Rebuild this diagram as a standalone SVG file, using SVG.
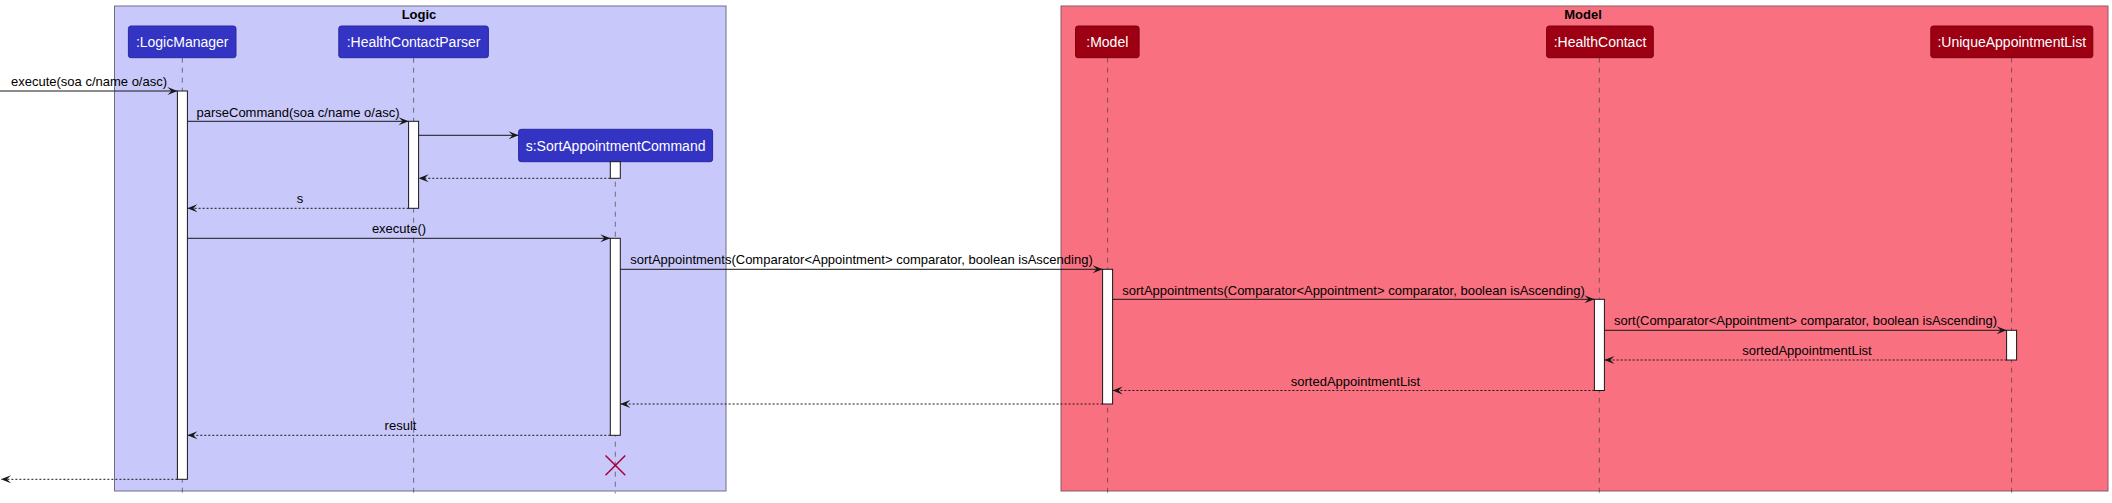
<svg xmlns="http://www.w3.org/2000/svg" width="2112" height="503" viewBox="0 0 2112 503">
<style>
  .t{font-family:"Liberation Sans",Arial,sans-serif;font-size:13px;fill:#000}
  .title{font-family:"Liberation Sans",Arial,sans-serif;font-size:13px;font-weight:bold;fill:#000;text-anchor:middle}
  .pt{font-family:"Liberation Sans",Arial,sans-serif;font-size:14px;fill:#fff;text-anchor:middle}
  .plog{fill:#3333C4;stroke:#2a2aa0;stroke-width:1}
  .pmod{fill:#9D0012;stroke:#7a000e;stroke-width:1}
  .life{stroke:#3a3a3a;stroke-opacity:0.65;stroke-width:1;stroke-dasharray:5,5;fill:none}
  .act{fill:#fff;stroke:#181818;stroke-width:1}
  .msg{stroke:#181818;stroke-width:1;fill:none;marker-end:url(#arr)}
  .ret{stroke:#181818;stroke-width:1;fill:none;stroke-dasharray:2,2;marker-end:url(#arr)}
  .mid{text-anchor:middle}
</style>
<defs>
  <marker id="arr" markerUnits="userSpaceOnUse" markerWidth="12" markerHeight="10" refX="10" refY="4" orient="auto" overflow="visible">
    <path d="M0,0 L10,4 L0,8 L4,4 Z" fill="#181818"/>
  </marker>
</defs>
<rect width="2112" height="503" fill="#fff"/>

<g id="box-logic">
  <rect x="114.5" y="6" width="611.5" height="485" fill="#C8C8FA" stroke="#6e6e8c" stroke-width="1"/>
  <text class="title" x="419" y="18.5">Logic</text>
</g>
<g id="box-model">
  <rect x="1061" y="6" width="1047" height="485" fill="#F97181" stroke="#8a5a62" stroke-width="1"/>
  <text class="title" x="1583" y="18.5">Model</text>
</g>

<g id="lifelines">
  <line class="life" x1="182.3" y1="57.7" x2="182.3" y2="493.5"/>
  <line class="life" x1="413.6" y1="57.7" x2="413.6" y2="493.5"/>
  <line class="life" x1="615.3" y1="161.7" x2="615.3" y2="493.5"/>
  <line class="life" x1="1107.6" y1="57.7" x2="1107.6" y2="493.5"/>
  <line class="life" x1="1599.3" y1="57.7" x2="1599.3" y2="493.5"/>
  <line class="life" x1="2011.6" y1="57.7" x2="2011.6" y2="493.5"/>
</g>

<g id="LogicManager">
  <rect class="plog" x="128.4" y="26" width="107.6" height="31.7" rx="2.5"/>
  <text class="pt" x="182.2" y="47">:LogicManager</text>
</g>
<g id="HealthContactParser">
  <rect class="plog" x="338.8" y="26" width="149.6" height="31.7" rx="2.5"/>
  <text class="pt" x="413.6" y="47">:HealthContactParser</text>
</g>
<g id="SortAppointmentCommand">
  <rect class="plog" x="518.6" y="129.3" width="194" height="32.4" rx="2.5"/>
  <text class="pt" x="615.6" y="150.5">s:SortAppointmentCommand</text>
</g>
<g id="Model">
  <rect class="pmod" x="1075.5" y="26" width="63.6" height="31.7" rx="2.5"/>
  <text class="pt" x="1107.3" y="47">:Model</text>
</g>
<g id="HealthContact">
  <rect class="pmod" x="1546.6" y="26" width="106.7" height="31.7" rx="2.5"/>
  <text class="pt" x="1600" y="47">:HealthContact</text>
</g>
<g id="UniqueAppointmentList">
  <rect class="pmod" x="1930.8" y="26" width="162" height="31.7" rx="2.5"/>
  <text class="pt" x="2011.8" y="47">:UniqueAppointmentList</text>
</g>

<g id="activations">
  <rect class="act" x="177.4" y="91" width="10" height="388.3"/>
  <rect class="act" x="408.6" y="121.3" width="10" height="87"/>
  <rect class="act" x="610.3" y="161.7" width="10" height="16.6"/>
  <rect class="act" x="610.3" y="238.3" width="10" height="197"/>
  <rect class="act" x="1102.6" y="269.3" width="10" height="134.7"/>
  <rect class="act" x="1594.4" y="299.3" width="10" height="91.2"/>
  <rect class="act" x="2006.6" y="330.3" width="10" height="29.7"/>
</g>

<g id="connectors">
  <line class="msg" x1="0" y1="91" x2="177.4" y2="91"/>
  <text class="t mid" x="89" y="86">execute(soa c/name o/asc)</text>

  <line class="msg" x1="187.4" y1="121.3" x2="408.6" y2="121.3"/>
  <text class="t mid" x="298" y="116.5">parseCommand(soa c/name o/asc)</text>

  <line class="msg" x1="418.6" y1="135.3" x2="518.6" y2="135.3"/>

  <line class="ret" x1="610.3" y1="178.3" x2="418.6" y2="178.3"/>

  <line class="ret" x1="408.6" y1="208.3" x2="187.4" y2="208.3"/>
  <text class="t mid" x="300" y="203">s</text>

  <line class="msg" x1="187.4" y1="238.3" x2="610.3" y2="238.3"/>
  <text class="t mid" x="399" y="233">execute()</text>

  <line class="msg" x1="620.3" y1="269.3" x2="1102.6" y2="269.3"/>
  <text class="t mid" x="861.5" y="264">sortAppointments(Comparator&lt;Appointment&gt; comparator, boolean isAscending)</text>

  <line class="msg" x1="1112.6" y1="299.3" x2="1594.4" y2="299.3"/>
  <text class="t mid" x="1353.5" y="294.5">sortAppointments(Comparator&lt;Appointment&gt; comparator, boolean isAscending)</text>

  <line class="msg" x1="1604.4" y1="330.3" x2="2006.6" y2="330.3"/>
  <text class="t mid" x="1805.5" y="325">sort(Comparator&lt;Appointment&gt; comparator, boolean isAscending)</text>

  <line class="ret" x1="2006.6" y1="360" x2="1604.4" y2="360"/>
  <text class="t mid" x="1807" y="355">sortedAppointmentList</text>

  <line class="ret" x1="1594.4" y1="390.5" x2="1112.6" y2="390.5"/>
  <text class="t mid" x="1355.5" y="385.5">sortedAppointmentList</text>

  <line class="ret" x1="1102.6" y1="404" x2="620.3" y2="404"/>

  <line class="ret" x1="610.3" y1="435.3" x2="187.4" y2="435.3"/>
  <text class="t mid" x="400.5" y="430">result</text>

  <line class="ret" x1="177.4" y1="479.3" x2="1" y2="479.3"/>
</g>

<g id="destroy" stroke="#A80036" stroke-width="1.5">
  <line x1="605.5" y1="455.5" x2="625.3" y2="475.3"/>
  <line x1="625.3" y1="455.5" x2="605.5" y2="475.3"/>
</g>
</svg>
